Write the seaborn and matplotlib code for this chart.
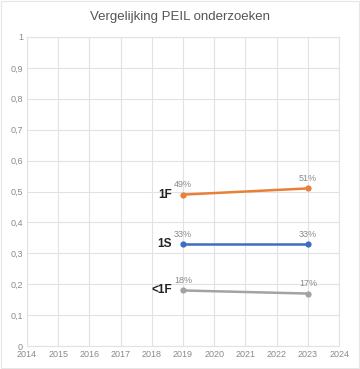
import matplotlib
matplotlib.use("Agg")
import pandas as pd
import numpy as np
from matplotlib import pyplot as plt
import matplotlib.ticker as ticker
import seaborn as sns

years = [2019, 2023]
niveaus = ["1F", "1S", "<1F"]
scores_1f = [0.49, 0.51]
scores_1s = [0.33, 0.33]
scores_lt1f = [0.18, 0.17]
kleuren = ["#E8803A", "#3E6CC4", "#A3A3A3"]

df = pd.DataFrame({
    "jaar": years * 3,
    "score": scores_1f + scores_1s + scores_lt1f,
    "niveau": [n for n in niveaus for _ in years],
})

sns.set_style("white")
plt.rcParams['font.family'] = ['Liberation Sans', 'DejaVu Sans']

fig = plt.figure(figsize=(3.6, 3.69), dpi=100)
ax = fig.add_axes([0.075, 0.062, 0.867, 0.838])

sns.lineplot(data=df, x="jaar", y="score", hue="niveau", palette=kleuren,
             marker="o", markersize=4.5, markeredgewidth=0, linewidth=1.8,
             legend=False, ax=ax)

# data labels and series names
for i, naam in enumerate(niveaus):
    sub = df[df["niveau"] == naam]
    for x, y in zip(sub["jaar"], sub["score"]):
        ax.text(x, y + 0.018, f"{round(y * 100)}%", ha="center", va="bottom",
                fontsize=6.5, color="#8a8a8a")
    ax.text(sub["jaar"].iloc[0] - 0.35, sub["score"].iloc[0], naam, ha="right",
            va="center", fontsize=8.5, fontweight="bold", color="#222222")

ax.set_xlim(2014, 2024)
ax.set_ylim(0, 1)
ax.xaxis.set_major_locator(ticker.MultipleLocator(1))
ax.yaxis.set_major_locator(ticker.MultipleLocator(0.1))
ax.yaxis.set_major_formatter(ticker.FuncFormatter(
    lambda v, p: "0" if abs(v) < 1e-9 else ("1" if abs(v - 1) < 1e-9 else f"{v:.1f}".replace(".", ","))))
ax.grid(True, color="#e2e2e2", linewidth=0.8)
ax.set_axisbelow(True)
for s in ax.spines.values():
    s.set_color("#e2e2e2")
    s.set_linewidth(0.8)
ax.tick_params(labelsize=6.5, colors="#8a8a8a", length=0, pad=3)
ax.set_xlabel("")
ax.set_ylabel("")

fig.text(0.5, 0.955, "Vergelijking PEIL onderzoeken", ha="center", va="center",
         fontsize=9.5, color="#555555")
fig.patches.append(plt.Rectangle((0.003, 0.003), 0.994, 0.994, transform=fig.transFigure,
                                 fill=False, edgecolor="#e6e6e6", linewidth=0.8))

fig.savefig("out.png", dpi=100)
